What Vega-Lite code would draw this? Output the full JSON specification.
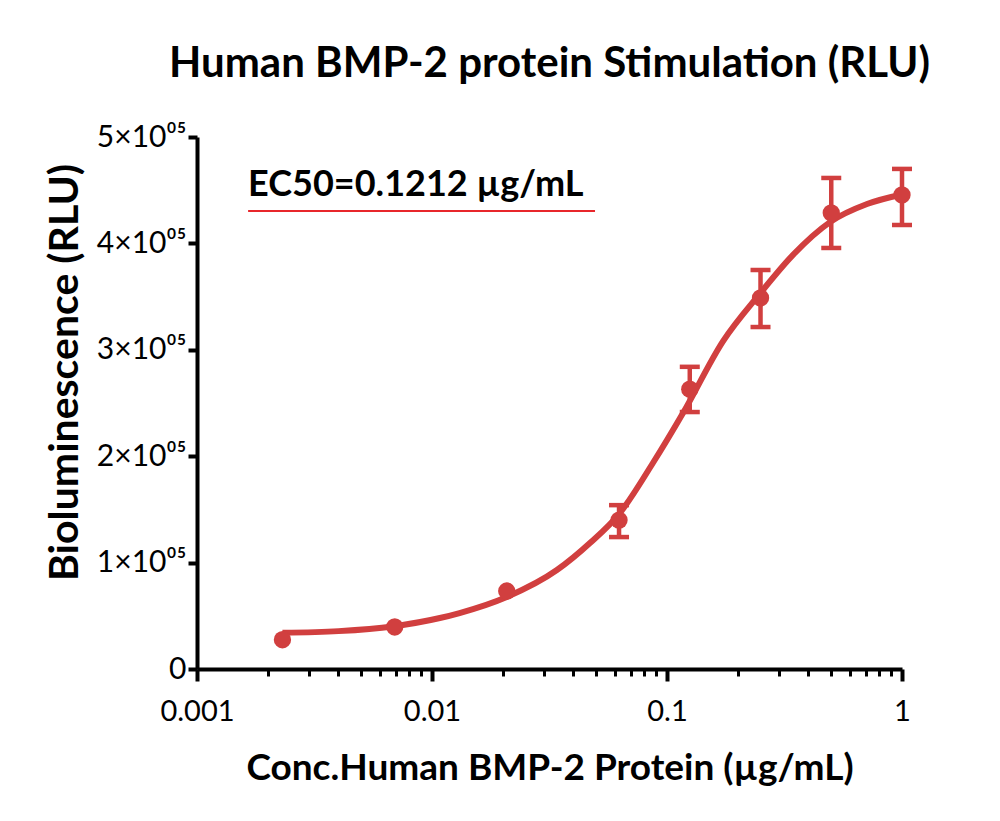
{
  "$schema": "https://vega.github.io/schema/vega-lite/v6.json",
  "width": 705,
  "height": 532,
  "autosize": {"type": "none"},
  "padding": {"left": 197, "top": 137, "right": 98, "bottom": 152},
  "background": "white",
  "config": {"view": {"stroke": null}, "font": "Lato"},
  "title": {
    "text": "Human BMP-2 protein Stimulation (RLU)",
    "font": "Lato",
    "fontSize": 42,
    "fontWeight": "bold",
    "color": "black",
    "anchor": "middle",
    "offset": 36
  },
  "datasets": {
    "curve": [
      {"conc": 0.00231, "rlu": 34000},
      {"conc": 0.004, "rlu": 35600},
      {"conc": 0.0068, "rlu": 40000},
      {"conc": 0.0108, "rlu": 47900},
      {"conc": 0.0131, "rlu": 52600},
      {"conc": 0.0208, "rlu": 67700},
      {"conc": 0.034, "rlu": 93000},
      {"conc": 0.047, "rlu": 118400},
      {"conc": 0.063, "rlu": 146600},
      {"conc": 0.0871, "rlu": 193600},
      {"conc": 0.117, "rlu": 240600},
      {"conc": 0.173, "rlu": 308000},
      {"conc": 0.249, "rlu": 353000},
      {"conc": 0.343, "rlu": 389000},
      {"conc": 0.494, "rlu": 420000},
      {"conc": 0.71, "rlu": 437000},
      {"conc": 1.0, "rlu": 446000}
    ],
    "points": [
      {"conc": 0.00231, "rlu": 27500},
      {"conc": 0.00694, "rlu": 39500},
      {"conc": 0.0208, "rlu": 73300},
      {"conc": 0.0625, "rlu": 140000, "lo": 124000, "hi": 154000},
      {"conc": 0.125, "rlu": 263000, "lo": 241500, "hi": 284000},
      {"conc": 0.25, "rlu": 348700, "lo": 321400, "hi": 375000},
      {"conc": 0.5, "rlu": 428600, "lo": 395700, "hi": 461500},
      {"conc": 1.0, "rlu": 445500, "lo": 417300, "hi": 470000}
    ],
    "legend": [
      {"x1": 0.00165, "x2": 0.0494, "yline": 430500, "ytext": 444500, "label": "EC50=0.1212 µg/mL"}
    ]
  },
  "layer": [
    {
      "data": {"name": "curve"},
      "mark": {"type": "line", "color": "#d13f3f", "strokeWidth": 6, "interpolate": "monotone"},
      "encoding": {
        "x": {
          "field": "conc", "type": "quantitative",
          "scale": {"type": "log", "domain": [0.001, 1], "nice": false},
          "axis": {
            "values": [0.001, 0.002, 0.003, 0.004, 0.005, 0.006, 0.007, 0.008, 0.009, 0.01, 0.02, 0.03, 0.04, 0.05, 0.06, 0.07, 0.08, 0.09, 0.1, 0.2, 0.3, 0.4, 0.5, 0.6, 0.7, 0.8, 0.9, 1],
            "labelExpr": "datum.value==0.001?'0.001':datum.value==0.01?'0.01':datum.value==0.1?'0.1':datum.value==1?'1':''",
            "labelOverlap": false,
            "labelFlush": false,
            "labelFont": "Lato",
            "labelFontSize": 29,
            "labelColor": "black",
            "labelPadding": 16,
            "domainColor": "black",
            "domainWidth": 4,
            "tickColor": "black",
            "tickSize": {"condition": {"test": "indexof([0.001,0.01,0.1,1], datum.value) < 0", "value": 7}, "value": 12},
            "tickWidth": {"condition": {"test": "indexof([0.001,0.01,0.1,1], datum.value) < 0", "value": 3}, "value": 4},
            "grid": false,
            "title": "Conc.Human BMP-2 Protein (µg/mL)",
            "titleFont": "Lato",
            "titleFontSize": 37,
            "titleFontWeight": "bold",
            "titleColor": "black",
            "titleY": 99,
            "titleBaseline": "middle"
          }
        },
        "y": {
          "field": "rlu", "type": "quantitative",
          "scale": {"domain": [0, 500000], "nice": false},
          "axis": {
            "values": [0, 100000, 200000, 300000, 400000, 500000],
            "labelExpr": "datum.value==0?'0':format(datum.value/100000,'d')+'×10⁰⁵'",
            "labelFont": "Lato",
            "labelFontSize": 30,
            "labelColor": "black",
            "labelPadding": 2,
            "labelFlush": false,
            "labelOverlap": false,
            "domainColor": "black",
            "domainWidth": 4,
            "tickColor": "black",
            "tickSize": 9,
            "tickWidth": 4,
            "grid": false,
            "title": "Bioluminescence (RLU)",
            "titleFont": "Lato",
            "titleFontSize": 41,
            "titleFontWeight": "bold",
            "titleColor": "black",
            "titleX": -132,
            "titleY": 235,
            "titleBaseline": "middle"
          }
        }
      }
    },
    {
      "data": {"name": "points"},
      "mark": {"type": "rule", "color": "#d13f3f", "strokeWidth": 4.5},
      "encoding": {
        "x": {"field": "conc", "type": "quantitative"},
        "y": {"field": "lo", "type": "quantitative"},
        "y2": {"field": "hi"}
      }
    },
    {
      "data": {"name": "points"},
      "mark": {"type": "tick", "color": "#d13f3f", "orient": "horizontal", "size": 20, "thickness": 4.5, "opacity": 1},
      "encoding": {
        "x": {"field": "conc", "type": "quantitative"},
        "y": {"field": "lo", "type": "quantitative"}
      }
    },
    {
      "data": {"name": "points"},
      "mark": {"type": "tick", "color": "#d13f3f", "orient": "horizontal", "size": 20, "thickness": 4.5, "opacity": 1},
      "encoding": {
        "x": {"field": "conc", "type": "quantitative"},
        "y": {"field": "hi", "type": "quantitative"}
      }
    },
    {
      "data": {"name": "points"},
      "mark": {"type": "point", "filled": true, "shape": "circle", "color": "#d13f3f", "size": 300, "opacity": 1},
      "encoding": {
        "x": {"field": "conc", "type": "quantitative"},
        "y": {"field": "rlu", "type": "quantitative"}
      }
    },
    {
      "data": {"name": "legend"},
      "mark": {"type": "rule", "color": "#e8262b", "strokeWidth": 2},
      "encoding": {
        "x": {"field": "x1", "type": "quantitative"},
        "x2": {"field": "x2"},
        "y": {"field": "yline", "type": "quantitative"}
      }
    },
    {
      "data": {"name": "legend"},
      "mark": {"type": "text", "font": "Lato", "fontSize": 36, "fontWeight": "bold", "color": "black", "align": "left", "baseline": "alphabetic"},
      "encoding": {
        "x": {"field": "x1", "type": "quantitative"},
        "y": {"field": "ytext", "type": "quantitative"},
        "text": {"field": "label"}
      }
    }
  ]
}
